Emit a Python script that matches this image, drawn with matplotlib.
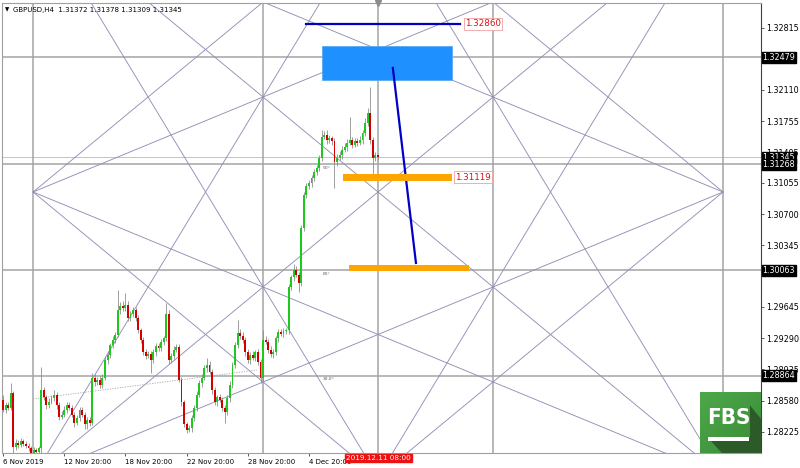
import numpy as np
import matplotlib.pyplot as plt
from matplotlib.patches import Rectangle, Polygon

# -----------------------------
# GBPUSD H4 candles (6 Nov 20:00 .. 11 Dec 08:00)
# -----------------------------
first_open = 1.2859
closes = [
    1.2848, 1.2853, 1.2850, 1.2867, 1.2805, 1.2810, 1.2808, 1.2812, 1.2809, 1.2807,
    1.2804, 1.2799, 1.2802, 1.2800, 1.2804, 1.2870, 1.2862, 1.2853, 1.2857, 1.2861,
    1.2865, 1.2853, 1.2840, 1.2842, 1.2848, 1.2853, 1.2850, 1.2842, 1.2833, 1.2838,
    1.2848, 1.2842, 1.2831, 1.2836, 1.2833, 1.2884, 1.2879, 1.2882, 1.2876, 1.2884,
    1.2904, 1.2910, 1.2921, 1.2927, 1.2933, 1.2961, 1.2966, 1.2963, 1.2967, 1.2952,
    1.2957, 1.2961, 1.2952, 1.2938, 1.2927, 1.2913, 1.2909, 1.2911, 1.2904, 1.2913,
    1.2920, 1.2918, 1.2925, 1.2929, 1.2957, 1.2904, 1.2909, 1.2916, 1.2919, 1.2882,
    1.2856, 1.2831, 1.2825, 1.2827, 1.2838, 1.2850, 1.2865, 1.2878, 1.2884, 1.2895,
    1.2899, 1.2891, 1.2870, 1.2856, 1.2862, 1.2859, 1.2850, 1.2845, 1.2861, 1.2876,
    1.2899, 1.2921, 1.2935, 1.2932, 1.2927, 1.2913, 1.2904, 1.2910, 1.2907, 1.2913,
    1.2902, 1.2884, 1.2927, 1.2925, 1.2916, 1.2911, 1.2913, 1.2929, 1.2936, 1.2934,
    1.2937, 1.2938, 1.2987, 1.2998, 1.3007, 1.3001, 1.2992, 1.3054, 1.3092, 1.3102,
    1.3105, 1.3111, 1.3118, 1.3122, 1.3134, 1.3158, 1.3160, 1.3154, 1.3156, 1.3153,
    1.3129, 1.3134, 1.3137, 1.3143, 1.3146, 1.3151, 1.3154, 1.3149, 1.3153, 1.3151,
    1.3154, 1.3162, 1.3174, 1.3185, 1.3154, 1.3134, 1.31372, 1.31345,
]
# wick lengths in pips above / below the body
up_wick = [
    5, 3, 3, 11, 2, 4, 3, 4, 3, 3,
    3, 2, 3, 2, 3, 26, 4, 3, 4, 3,
    5, 3, 3, 4, 4, 3, 4, 3, 3, 4,
    3, 3, 3, 3, 4, 5, 4, 3, 4, 4,
    5, 4, 3, 4, 3, 23, 4, 5, 13, 4,
    3, 4, 3, 3, 3, 3, 4, 3, 3, 4,
    3, 4, 3, 3, 12, 4, 3, 4, 3, 3,
    3, 3, 3, 3, 4, 3, 4, 3, 4, 4,
    8, 4, 3, 4, 3, 4, 3, 3, 4, 4,
    3, 4, 15, 5, 4, 3, 4, 3, 4, 3,
    4, 3, 11, 4, 3, 4, 4, 3, 4, 3,
    4, 3, 4, 3, 6, 4, 3, 4, 3, 3,
    4, 3, 3, 4, 3, 8, 4, 5, 4, 3,
    4, 4, 5, 4, 5, 4, 26, 4, 3, 4,
    5, 4, 5, 5, 29, 4, 3, 0.6,
]
down_wick = [
    3, 4, 3, 3, 6, 3, 4, 3, 3, 3,
    3, 2, 3, 2, 3, 6, 3, 4, 3, 3,
    3, 4, 4, 3, 3, 4, 3, 3, 5, 3,
    3, 3, 5, 5, 4, 3, 4, 3, 3, 4,
    3, 4, 3, 3, 4, 3, 4, 3, 3, 4,
    3, 4, 3, 3, 4, 3, 4, 3, 14, 3,
    4, 3, 3, 4, 3, 4, 3, 4, 3, 3,
    4, 3, 4, 3, 4, 3, 4, 3, 4, 3,
    4, 3, 4, 3, 4, 3, 4, 12, 3, 4,
    3, 4, 3, 4, 3, 4, 3, 4, 3, 4,
    3, 6, 4, 3, 4, 3, 4, 3, 4, 3,
    4, 3, 4, 3, 4, 3, 10, 4, 3, 4,
    3, 4, 3, 4, 3, 4, 3, 4, 3, 4,
    29, 4, 3, 4, 3, 4, 3, 4, 3, 4,
    3, 4, 3, 4, 4, 23, 4, 3.6,
]

date_ticks = [0, 24, 48, 72, 96, 120]
date_labels = ["6 Nov 2019", "12 Nov 20:00", "18 Nov 20:00", "22 Nov 20:00",
               "28 Nov 20:00", "4 Dec 20:00"]
price_ticks = [1.32815, 1.32110, 1.31755, 1.31405, 1.31055, 1.30700,
               1.30345, 1.29645, 1.29290, 1.28935, 1.28580, 1.28225]
box_levels = [1.32479, 1.31345, 1.31268, 1.30063, 1.28864]
grid_levels = [1.32479, 1.31268, 1.30063, 1.28864]
level_tags = ["50°", "50°", "60°", "30.0°"]
grid_times = [11.8, 102.0, 147.1, 192.2, 282.4]
cursor_time = 147.1

# gann star: anchor (bar, price) and one grid unit
g_t0, g_dt = 147.1, 45.1
g_p0, g_dp = 1.30951, 0.01079
rays = [((-3, 0), (1, -2)), ((-3, 0), (-1, -2)), ((-3, 0), (1, 2)), ((-3, 0), (-1, 2)),
        ((3, 0), (-1, -2)), ((3, 0), (1, -2)), ((3, 0), (-1, 2)), ((3, 0), (1, 2))]
full_lines = [((-2, -2), (2, 2)), ((2, -2), (-2, 2)),
              ((-2.5, -2), (-0.5, 2)), ((-0.5, -2), (-2.5, 2)),
              ((0.5, -2), (2.5, 2)), ((2.5, -2), (0.5, 2))]

# drawn objects
blue_zone = (125.1, 176.1, 1.32224, 1.32610)
target_line = (118.8, 179.2, 1.32860)
arrow_line = ((152.9, 1.32360), (161.96, 1.30145))
orange_1 = (133.3, 176.0, 1.31119)
orange_2 = (135.7, 182.7, 1.30088)
dotted_trend = ((11.8, 1.28600), (99.6, 1.28929))

o = np.concatenate([[first_open], closes[:-1]])
c = np.array(closes)
hi = np.maximum(o, c) + np.array(up_wick) / 10000
lo = np.minimum(o, c) - np.array(down_wick) / 10000
idx = np.arange(len(c))


def gpt(uv):
    return g_t0 + g_dt * uv[0], g_p0 - g_dp * uv[1]


fig = plt.figure(figsize=(8, 4.68), dpi=100)
ax = fig.add_axes([2 / 800, 15 / 468, 759 / 800, 450 / 468])
ax.set_xlim(-0.4, 297.3)
ax.set_ylim(1.27986, 1.33098)

# grid
for lv in grid_levels:
    ax.axhline(lv, color="#a4a4a4", lw=1.1, zorder=1)
ax.axhline(1.31345, color="#c4c4c4", lw=0.7, zorder=1)
for t in grid_times:
    ax.axvline(t, color="#a4a4a4", lw=1.1, zorder=1)
for lv, tag in zip(grid_levels, level_tags):
    ax.text(125.5, lv - 0.0002, tag, fontsize=3.2, color="#555555", va="top", zorder=3)

# gann star
gcol = "#9090b6"
for a, b in rays:
    t1, p1 = gpt(a)
    t2, p2 = gpt(b)
    ax.plot([t1, t1 + 6 * (t2 - t1)], [p1, p1 + 6 * (p2 - p1)], color=gcol, lw=0.65, zorder=2)
for a, b in full_lines:
    ax.axline(gpt(a), gpt(b), color=gcol, lw=0.65, zorder=2)

ax.plot([dotted_trend[0][0], dotted_trend[1][0]], [dotted_trend[0][1], dotted_trend[1][1]],
        color="#a8a8a8", lw=0.6, ls=(0, (1.5, 1.5)), zorder=2)

# candles
cols = np.where(c >= o, "#1ec81e", "#d40000")
ax.vlines(idx, lo, hi, color="#8e8e8e", lw=0.6, zorder=4)
body = np.maximum(np.abs(c - o), 0.00008)
ax.bar(idx, body, bottom=np.minimum(o, c), width=0.75, color=cols, linewidth=0, zorder=5)

# drawn objects
ax.add_patch(Rectangle((blue_zone[0], blue_zone[2]), blue_zone[1] - blue_zone[0],
                       blue_zone[3] - blue_zone[2], fc="#1e90ff", ec="#5aaaf0", lw=0.6, zorder=3))
ax.plot([target_line[0], target_line[1]], [target_line[2]] * 2, color="#0000c0", lw=1.6, zorder=6)
ax.plot([arrow_line[0][0], arrow_line[1][0]], [arrow_line[0][1], arrow_line[1][1]],
        color="#0000c8", lw=1.6, zorder=6)
for t1, t2, lv, h in [(*orange_1, 0.0008), (*orange_2, 0.00066)]:
    ax.add_patch(Rectangle((t1, lv - h / 2), t2 - t1, h, fc="#ffa500", ec="none", zorder=6))

lab = dict(fontsize=6.3, color="#e01010", va="center", ha="left", zorder=8,
           bbox=dict(boxstyle="square,pad=0.15", fc="white", ec="#f0a0a0", lw=0.6))
ax.text(181.2, target_line[2], "1.32860", **lab)
ax.text(177.3, orange_1[2], "1.31119", **lab)

# axes styling
for s in ["left", "top", "bottom"]:
    ax.spines[s].set_color("#a0a0a0")
    ax.spines[s].set_linewidth(0.8)
ax.spines["right"].set_color("#404040")
ax.spines["right"].set_linewidth(0.8)
ax.yaxis.tick_right()
ax.set_yticks(price_ticks)
ax.set_yticklabels([f"{p:.5f}" for p in price_ticks])
ax.tick_params(axis="y", length=2.5, width=0.6, pad=1.5, labelsize=5.8, color="#404040")
ax.set_xticks(date_ticks)
ax.set_xticklabels(date_labels)
ax.tick_params(axis="x", length=2.5, width=0.6, pad=1.5, labelsize=5.0, color="#404040")
for lbl in ax.get_xticklabels():
    lbl.set_ha("left")

for lv in box_levels:
    ax.text(1.002, lv, f"{lv:.5f}", transform=ax.get_yaxis_transform(), fontsize=5.8,
            color="white", va="center", ha="left", zorder=10, clip_on=False,
            bbox=dict(boxstyle="square,pad=0.12", fc="black", ec="black"))

ax.text(cursor_time, -0.004, "2019.12.11 08:00", transform=ax.get_xaxis_transform(),
        fontsize=5.2, color="white", ha="center", va="top", zorder=10, clip_on=False,
        bbox=dict(boxstyle="square,pad=0.15", fc="#ee1111", ec="#ee1111"))

ax.text(0.004, 0.99, "▼", transform=ax.transAxes, fontsize=4, va="top", ha="left")
ax.text(0.014, 0.992, "GBPUSD,H4  1.31372 1.31378 1.31309 1.31345", transform=ax.transAxes,
        fontsize=5.0, va="top", ha="left", zorder=10)
ax.plot([cursor_time], [1.33098], marker="v", color="#8c8c8c", ms=4, clip_on=False, zorder=10)

# FBS badge
lg = fig.add_axes([700 / 800, 15 / 468, 61 / 800, 61 / 468])
lg.set_xlim(0, 1)
lg.set_ylim(0, 1)
lg.axis("off")
grad = np.linspace(0, 1, 50)[None, :] + np.linspace(0, 1, 50)[:, None]
lg.imshow(grad, extent=(0, 1, 0, 1), cmap=plt.matplotlib.colors.LinearSegmentedColormap.from_list(
    "g", ["#4da84a", "#3a8c36"]), origin="upper", aspect="auto")
lg.add_patch(Polygon([(0.12, 0.26), (0.82, 0.26), (0.82, 0.78), (1.0, 0.56), (1.0, 0.0), (0.36, 0.0)],
                     fc="#2c5a28", ec="none"))
lg.text(0.47, 0.58, "FBS", color="white", fontsize=16, fontweight="bold", ha="center", va="center",
        family="DejaVu Sans", stretch="condensed")
lg.add_patch(Rectangle((0.13, 0.2), 0.68, 0.06, fc="white", ec="none"))

fig.savefig("out.png", dpi=100)
